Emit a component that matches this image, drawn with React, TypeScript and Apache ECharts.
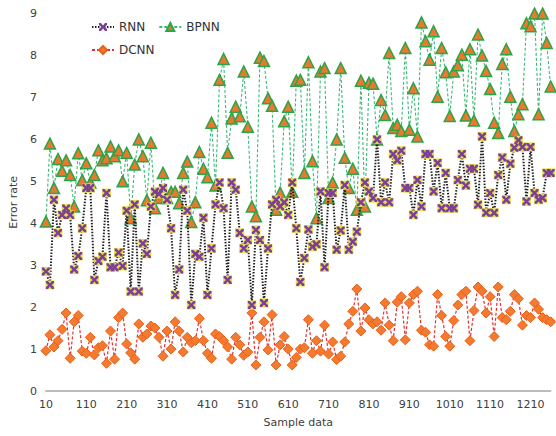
import React, { useEffect, useRef } from "react";
import * as echarts from "echarts";

const categories: string[] = [];
for (let v = 10; v <= 1260; v += 10) categories.push(String(v));

const rnn = [
  2.85, 2.53, 4.56, 3.77, 4.2, 4.35, 4.2, 2.9, 3.22, 3.88,
  4.84, 4.84, 2.65, 3.1, 3.2, 4.72, 2.95, 2.95, 3.3, 2.98,
  4.3, 2.37, 4.45, 2.37, 3.52, 3.27, 4.4, 4.75, 4.7, 4.84,
  4.56, 3.88, 2.29, 2.9, 4.8, 4.3, 2.05, 3.27, 3.2, 4.13,
  2.29, 3.4, 4.45, 4.97, 4.36, 2.65, 4.97, 4.8, 3.77, 3.4,
  3.6, 2.05, 3.84, 3.6, 2.1, 3.4, 4.45, 4.56, 4.4, 4.5,
  4.2, 4.97, 3.88, 2.6, 3.17, 3.85, 3.44, 3.5, 4.76, 2.95,
  4.72, 4.72, 3.37, 3.83, 4.91, 3.37, 3.56, 3.8, 4.5, 4.97,
  4.76, 4.6, 6.0, 4.5, 4.97, 4.5, 5.65, 5.5, 5.73, 4.84,
  4.84, 4.2, 5.03, 4.4, 5.65, 5.65, 4.76, 5.44, 4.36, 5.2,
  4.36, 4.36, 5.03, 5.65, 4.9, 5.3, 5.3, 4.44, 6.07, 4.25,
  4.72, 4.25, 5.15, 5.57, 4.56, 5.42, 5.8, 5.98, 5.82, 4.52,
  5.82, 4.72, 4.56, 4.6, 5.2, 5.2,
];

const bpnn = [
  4.04, 5.9, 4.84, 5.53, 5.25, 5.5, 5.15, 4.4, 5.67, 5.03,
  5.43, 4.97, 5.15, 5.74, 5.5, 5.55, 5.83, 5.6, 5.74, 5.0,
  5.68, 4.12, 5.4, 6.0, 5.6, 4.55, 5.92, 4.36, 4.6, 5.2,
  4.6, 4.75, 4.75, 4.48, 5.2, 5.47, 4.03, 4.5, 5.7, 5.3,
  5.1, 6.4, 4.9, 7.42, 7.92, 5.68, 6.5, 6.78, 6.55, 7.62,
  6.3, 4.4, 4.17, 7.95, 7.87, 6.98, 6.8, 4.32, 4.73, 6.43,
  6.78, 4.75, 7.4, 7.42, 5.2, 7.84, 5.48, 4.12, 7.62, 7.7,
  4.6, 4.97, 6.0, 7.7, 5.56, 4.84, 5.3, 4.32, 7.4, 4.4,
  7.35, 7.33, 6.0, 6.94, 6.58, 8.06, 6.27, 6.35, 6.2, 8.18,
  6.23, 7.22, 6.07, 8.79, 8.34, 7.9, 8.58, 7.02, 8.18, 7.6,
  6.56, 7.62, 7.77, 8.02, 6.57, 8.15, 6.45, 8.5, 8.0, 7.63,
  7.2, 6.4, 6.15, 7.8, 8.15, 7.02, 6.2, 6.6, 6.84, 8.77,
  8.7, 9.0, 6.6, 9.0, 8.3, 7.26,
];

const dcnn = [
  0.96, 1.34, 1.05, 1.2, 1.47, 1.86, 0.78, 1.65, 1.8, 0.95,
  0.9, 1.28, 0.86, 1.03, 1.08, 0.66, 1.43, 0.76, 1.75, 1.86,
  1.12, 0.91, 0.76, 1.6, 1.28, 1.36, 1.55, 1.5, 1.28, 0.83,
  1.43, 1.0, 1.65, 1.43, 0.93, 1.28, 1.15, 1.2, 1.73, 1.2,
  0.9, 0.78, 1.36, 1.3, 1.2, 1.05, 0.76, 1.28, 1.1, 0.85,
  0.93, 1.86, 0.62, 1.28, 1.65, 0.98, 1.82, 0.62, 1.1, 1.3,
  1.0, 0.62, 0.8, 1.0, 1.03, 1.7, 0.9, 1.2, 0.95, 1.57,
  0.88, 1.17, 0.75, 0.83, 1.17, 1.6, 1.9, 2.43, 1.43, 1.98,
  1.7, 1.6, 1.65, 1.45, 2.1, 1.57, 1.2, 2.12, 2.25, 1.22,
  2.1, 2.3, 2.38, 1.45, 1.4, 1.1, 1.07, 2.3, 1.8, 1.3,
  1.07, 1.68, 2.05, 2.3, 2.38, 1.2, 1.92, 2.48, 2.38, 1.86,
  2.25, 1.3, 2.48, 1.75, 1.7, 1.9, 2.3, 2.2, 1.57, 1.8,
  1.75, 2.1, 1.95, 1.75, 1.7, 1.65,
];

const FONT = "DejaVu Sans";
const TEXT = "#404040";
const X_PATH =
  "path://M0,0L2.5,0L5,3L7.5,0L10,0L10,2.5L7,5L10,7.5L10,10L7.5,10L5,7L2.5,10L0,10L0,7.5L3,5L0,2.5Z";

export default function App() {
  const ref = useRef<HTMLDivElement>(null);
  useEffect(() => {
    if (!ref.current) return;
    const chart = echarts.init(ref.current, undefined, { renderer: "svg" });
    chart.setOption({
      animation: false,
      backgroundColor: "#ffffff",
      grid: { left: 42.7, right: 5.3, top: 13.6, bottom: 45 },
      legend: [
        {
          left: 86,
          top: 16,
          itemWidth: 22,
          itemHeight: 10,
          itemGap: 13,
          textStyle: { fontFamily: FONT, fontSize: 12, color: "#333" },
          data: ["RNN", "BPNN"],
        },
        {
          left: 86,
          top: 39,
          itemWidth: 22,
          itemHeight: 10,
          textStyle: { fontFamily: FONT, fontSize: 12, color: "#333" },
          data: ["DCNN"],
        },
      ],
      xAxis: {
        type: "category",
        data: categories,
        boundaryGap: false,
        name: "Sample data",
        nameLocation: "middle",
        nameGap: 26,
        nameTextStyle: { fontFamily: FONT, fontSize: 11, color: TEXT },
        axisLine: { lineStyle: { color: "#a6a6a6", width: 1.5 } },
        axisTick: { show: false },
        axisLabel: { interval: 9, fontFamily: FONT, fontSize: 11, color: TEXT, margin: 8 },
        splitLine: { show: false },
      },
      yAxis: {
        type: "value",
        min: 0,
        max: 9,
        interval: 1,
        name: "Error rate",
        nameLocation: "middle",
        nameGap: 17,
        nameTextStyle: { fontFamily: FONT, fontSize: 11, color: TEXT },
        axisLine: { show: false },
        axisTick: { show: false },
        axisLabel: { fontFamily: FONT, fontSize: 11, color: TEXT, margin: 9 },
        splitLine: { show: false },
      },
      series: [
        {
          name: "DCNN",
          type: "line",
          data: dcnn,
          z: 2,
          symbol: "diamond",
          symbolSize: 10,
          showAllSymbol: true,
          itemStyle: { color: "#f47a30", borderColor: "#e8601c", borderWidth: 1 },
          lineStyle: { color: "#e62e2e", width: 1.2, type: [3, 2] },
        },
        {
          name: "BPNN",
          type: "line",
          data: bpnn,
          z: 3,
          symbol: "triangle",
          symbolSize: 11,
          showAllSymbol: true,
          itemStyle: { color: "#e8792e", borderColor: "#2aa548", borderWidth: 1.5 },
          lineStyle: { color: "#3cb878", width: 1.1, type: [3, 2] },
        },
        {
          name: "RNN",
          type: "line",
          data: rnn,
          z: 4,
          symbol: X_PATH,
          symbolSize: 8,
          showSymbol: false,
          itemStyle: { color: "#7b3f98" },
          lineStyle: { color: "#222222", width: 2, type: [1.5, 1.5] },
        },
        {
          name: "RNN-bg",
          type: "scatter",
          data: rnn,
          z: 5,
          silent: true,
          symbol: "rect",
          symbolSize: 9,
          itemStyle: { color: "#e6dc4c", opacity: 1 },
        },
        {
          name: "RNN-x",
          type: "scatter",
          data: rnn,
          z: 6,
          silent: true,
          symbol: X_PATH,
          symbolSize: 8,
          itemStyle: { color: "#7b3f98", opacity: 1 },
        },
      ],
    });
    return () => chart.dispose();
  }, []);
  return (
    <div
      ref={ref}
      style={{ position: "fixed", left: 0, top: 0, width: 556, height: 436 }}
    />
  );
}
